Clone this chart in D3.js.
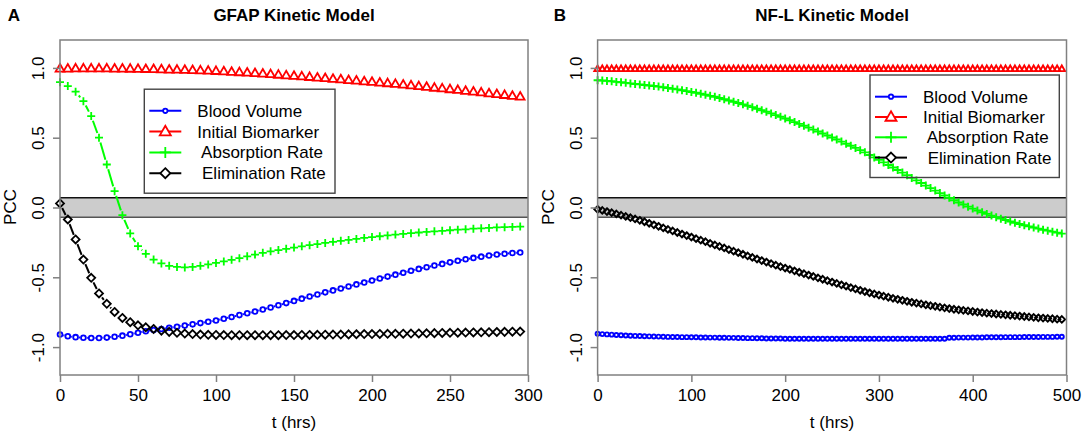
<!DOCTYPE html>
<html>
<head>
<meta charset="utf-8">
<script src="https://cdn.jsdelivr.net/npm/d3@7"></script>
<style>
  body { margin: 0; background: #fff; }
  text { font-family: "Liberation Sans", Arial, sans-serif; }
</style>
</head>
<body>
<svg id="chart" width="1084" height="436"></svg>
<script>
// time points (hrs)
const tA = [0,5,10,15,20,25,30,35,40,45,50,55,60,65,70,75,80,85,90,95,
  100,105,110,115,120,125,130,135,140,145,150,155,160,165,170,175,180,185,190,195,
  200,205,210,215,220,225,230,235,240,245,250,255,260,265,270,275,280,285,290,295];
const tB = [0,5,10,15,20,25,30,35,40,45,50,55,60,65,70,75,80,85,90,95,
  100,105,110,115,120,125,130,135,140,145,150,155,160,165,170,175,180,185,190,195,
  200,205,210,215,220,225,230,235,240,245,250,255,260,265,270,275,280,285,290,295,
  300,305,310,315,320,325,330,335,340,345,350,355,360,365,370,375,380,385,390,395,
  400,405,410,415,420,425,430,435,440,445,450,455,460,465,470,475,480,485,490,495];

// GFAP panel
const bloodA = [-0.910,-0.922,-0.929,-0.933,-0.935,-0.935,-0.932,-0.926,-0.918,-0.908,
  -0.897,-0.887,-0.878,-0.870,-0.862,-0.854,-0.846,-0.837,-0.828,-0.819,
  -0.810,-0.797,-0.784,-0.771,-0.758,-0.745,-0.731,-0.716,-0.700,-0.685,
  -0.669,-0.653,-0.638,-0.623,-0.608,-0.594,-0.580,-0.566,-0.551,-0.537,
  -0.523,-0.509,-0.495,-0.481,-0.467,-0.453,-0.440,-0.428,-0.416,-0.404,
  -0.393,-0.382,-0.371,-0.361,-0.352,-0.344,-0.337,-0.331,-0.326,-0.322];
const initialA = [0.995,0.995,0.996,0.996,0.996,0.996,0.996,0.995,0.995,0.994,
  0.993,0.992,0.991,0.990,0.988,0.987,0.986,0.984,0.982,0.980,
  0.978,0.975,0.972,0.969,0.966,0.963,0.959,0.955,0.951,0.947,
  0.943,0.939,0.935,0.931,0.927,0.922,0.918,0.913,0.909,0.904,
  0.900,0.895,0.890,0.885,0.880,0.875,0.869,0.864,0.858,0.853,
  0.847,0.842,0.836,0.830,0.824,0.818,0.812,0.806,0.800,0.794];
const absorbA = [0.898,0.870,0.830,0.762,0.655,0.500,0.308,0.117,-0.055,-0.186,
  -0.277,-0.332,-0.373,-0.401,-0.418,-0.426,-0.429,-0.426,-0.418,-0.408,
  -0.397,-0.386,-0.375,-0.363,-0.350,-0.337,-0.325,-0.314,-0.305,-0.296,
  -0.287,-0.278,-0.270,-0.262,-0.254,-0.246,-0.239,-0.232,-0.225,-0.218,
  -0.212,-0.206,-0.200,-0.194,-0.189,-0.184,-0.179,-0.175,-0.171,-0.167,
  -0.163,-0.159,-0.156,-0.152,-0.149,-0.146,-0.143,-0.141,-0.139,-0.137];
const elimA = [0.029,-0.086,-0.229,-0.373,-0.504,-0.616,-0.690,-0.748,-0.791,-0.822,
  -0.844,-0.858,-0.870,-0.882,-0.891,-0.898,-0.903,-0.907,-0.910,-0.912,
  -0.913,-0.914,-0.915,-0.915,-0.915,-0.915,-0.915,-0.915,-0.915,-0.914,
  -0.914,-0.913,-0.913,-0.912,-0.911,-0.910,-0.910,-0.909,-0.908,-0.907,
  -0.907,-0.906,-0.905,-0.905,-0.904,-0.903,-0.902,-0.901,-0.900,-0.899,
  -0.898,-0.897,-0.896,-0.895,-0.894,-0.893,-0.892,-0.891,-0.890,-0.889];

// NF-L panel
const bloodB = [-0.905,-0.907,-0.909,-0.911,-0.913,-0.915,-0.917,-0.919,-0.920,-0.921,
  -0.922,-0.923,-0.924,-0.925,-0.926,-0.927,-0.928,-0.928,-0.929,-0.929,
  -0.930,-0.930,-0.931,-0.931,-0.932,-0.932,-0.933,-0.933,-0.934,-0.934,
  -0.935,-0.935,-0.936,-0.936,-0.937,-0.937,-0.938,-0.938,-0.939,-0.939,
  -0.940,-0.940,-0.940,-0.940,-0.940,-0.940,-0.940,-0.940,-0.940,-0.940,
  -0.940,-0.940,-0.940,-0.940,-0.940,-0.940,-0.940,-0.940,-0.940,-0.940,
  -0.940,-0.940,-0.940,-0.940,-0.940,-0.940,-0.940,-0.940,-0.940,-0.940,
  -0.940,-0.940,-0.940,-0.940,-0.940,-0.933,-0.933,-0.932,-0.932,-0.932,
  -0.931,-0.931,-0.931,-0.930,-0.930,-0.930,-0.930,-0.929,-0.929,-0.929,
  -0.929,-0.928,-0.928,-0.928,-0.928,-0.927,-0.927,-0.927,-0.926,-0.926];
const initialB = [0.993,0.993,0.993,0.993,0.993,0.993,0.993,0.993,0.993,0.993,
  0.993,0.993,0.993,0.993,0.993,0.993,0.993,0.993,0.993,0.993,
  0.993,0.993,0.993,0.993,0.993,0.993,0.993,0.993,0.993,0.993,
  0.993,0.993,0.993,0.993,0.993,0.993,0.993,0.993,0.993,0.993,
  0.993,0.993,0.993,0.993,0.993,0.993,0.993,0.993,0.993,0.993,
  0.993,0.993,0.993,0.993,0.993,0.993,0.993,0.993,0.993,0.993,
  0.993,0.993,0.993,0.993,0.993,0.993,0.993,0.993,0.993,0.993,
  0.993,0.993,0.993,0.993,0.993,0.993,0.993,0.993,0.993,0.993,
  0.993,0.993,0.993,0.993,0.993,0.993,0.993,0.993,0.993,0.993,
  0.993,0.993,0.993,0.993,0.993,0.993,0.993,0.993,0.993,0.993];
const absorbB = [0.912,0.910,0.907,0.904,0.900,0.897,0.893,0.889,0.885,0.882,
  0.878,0.874,0.870,0.866,0.861,0.856,0.851,0.846,0.840,0.834,
  0.828,0.822,0.815,0.808,0.800,0.793,0.785,0.776,0.767,0.758,
  0.749,0.739,0.729,0.719,0.708,0.697,0.686,0.674,0.662,0.650,
  0.638,0.625,0.612,0.599,0.586,0.572,0.558,0.544,0.530,0.516,
  0.502,0.487,0.472,0.457,0.442,0.427,0.411,0.395,0.376,0.359,
  0.341,0.323,0.305,0.287,0.269,0.250,0.231,0.212,0.194,0.175,
  0.157,0.139,0.121,0.103,0.086,0.069,0.052,0.036,0.021,0.006,
  -0.008,-0.021,-0.034,-0.046,-0.058,-0.069,-0.080,-0.090,-0.100,-0.109,
  -0.118,-0.127,-0.135,-0.143,-0.151,-0.159,-0.166,-0.173,-0.180,-0.187];
const elimB = [-0.013,-0.021,-0.029,-0.037,-0.046,-0.055,-0.064,-0.073,-0.082,-0.092,
  -0.102,-0.113,-0.124,-0.135,-0.146,-0.157,-0.168,-0.179,-0.190,-0.201,
  -0.212,-0.223,-0.234,-0.245,-0.257,-0.268,-0.279,-0.290,-0.302,-0.313,
  -0.324,-0.335,-0.347,-0.358,-0.369,-0.380,-0.391,-0.402,-0.413,-0.424,
  -0.434,-0.444,-0.454,-0.464,-0.474,-0.484,-0.494,-0.504,-0.514,-0.524,
  -0.534,-0.544,-0.554,-0.564,-0.574,-0.583,-0.593,-0.602,-0.611,-0.619,
  -0.627,-0.635,-0.643,-0.651,-0.658,-0.665,-0.672,-0.679,-0.685,-0.691,
  -0.697,-0.703,-0.708,-0.714,-0.719,-0.724,-0.729,-0.733,-0.737,-0.741,
  -0.745,-0.749,-0.753,-0.757,-0.760,-0.763,-0.766,-0.769,-0.772,-0.775,
  -0.778,-0.781,-0.784,-0.787,-0.790,-0.792,-0.795,-0.797,-0.800,-0.802];

const seriesNames = ["Blood Volume", "Initial Biomarker", " Absorption Rate", " Elimination Rate"];
const seriesColors = ["#0000ff", "#ff0000", "#00ff00", "#000000"];
const seriesShapes = ["circle", "triangle", "cross", "diamond"];

const yTicks = [-1, -0.5, 0, 0.5, 1];
const yTickLabels = ["-1.0", "-0.5", "0.0", "0.5", "1.0"];
const xTicksA = [0, 50, 100, 150, 200, 250, 300];
const xTicksB = [0, 100, 200, 300, 400, 500];
const band = [-0.07, 0.07];

const svg = d3.select("#chart");
const FONT = 17;
const plotTop = 40, plotBottom = 375;

function markerPath(shape, s) {
  if (shape === "circle") return `M${s},0A${s},${s} 0 1,1 ${-s},0A${s},${s} 0 1,1 ${s},0Z`;
  if (shape === "triangle") return `M0,${-s}L${0.95 * s},${0.65 * s}L${-0.95 * s},${0.65 * s}Z`;
  if (shape === "cross") return `M${-s},0H${s}M0,${-s}V${s}`;
  return `M0,${-s}L${s},0L0,${s}L${-s},0Z`;
}

function drawPanel(p) {
  const x = d3.scaleLinear().domain(p.xDomain).range([p.left, p.right]);
  const y = d3.scaleLinear().domain([-1.2, 1.2]).range([plotBottom, plotTop]);
  const g = svg.append("g");

  // grey band round zero
  g.append("rect")
    .attr("x", p.left).attr("width", p.right - p.left)
    .attr("y", y(band[1])).attr("height", y(band[0]) - y(band[1]))
    .attr("fill", "#cccccc");
  g.append("line").attr("x1", p.left).attr("x2", p.right)
    .attr("y1", y(band[1])).attr("y2", y(band[1]))
    .attr("stroke", "#111").attr("stroke-width", 1.5);
  g.append("line").attr("x1", p.left).attr("x2", p.right)
    .attr("y1", y(band[0])).attr("y2", y(band[0]))
    .attr("stroke", "#555").attr("stroke-width", 1.5);

  // series, drawn like type="b": points plus line pieces between them
  p.series.forEach((vals, i) => {
    const pts = p.t.map((t, j) => [x(t), y(vals[j])]);
    const gap = p.sizes[i] + 1;
    const segs = d3.pairs(pts).map(([a, b]) => {
      const dx = b[0] - a[0], dy = b[1] - a[1], d = Math.hypot(dx, dy);
      if (d <= 2 * gap) return null;
      const ux = dx / d, uy = dy / d;
      return [a[0] + ux * gap, a[1] + uy * gap, b[0] - ux * gap, b[1] - uy * gap];
    }).filter(Boolean);

    g.selectAll(null).data(segs).join("line")
      .attr("x1", d => d[0]).attr("y1", d => d[1])
      .attr("x2", d => d[2]).attr("y2", d => d[3])
      .attr("stroke", seriesColors[i]).attr("stroke-width", 2);

    g.selectAll(null).data(pts).join("path")
      .attr("d", markerPath(seriesShapes[i], p.sizes[i]))
      .attr("transform", d => `translate(${d[0]},${d[1]})`)
      .attr("fill", "none")
      .attr("stroke", seriesColors[i])
      .attr("stroke-width", p.markerStroke);
  });

  // axes
  const ax = g.append("g")
    .attr("transform", `translate(0,${plotBottom})`)
    .call(d3.axisBottom(x).tickValues(p.xTicks).tickSize(7).tickSizeOuter(0).tickFormat(d3.format("d")));
  const ay = g.append("g")
    .attr("transform", `translate(${p.left},0)`)
    .call(d3.axisLeft(y).tickValues(yTicks).tickSize(7).tickSizeOuter(0).tickFormat((d, i) => yTickLabels[i]));
  [ax, ay].forEach(a => {
    a.attr("font-family", null).attr("font-size", FONT);
    a.select(".domain").remove();
    a.selectAll(".tick line").attr("stroke", "#808080").attr("stroke-width", 1.5);
    a.selectAll(".tick text").attr("fill", "#000");
  });
  ax.selectAll(".tick text").attr("y", 20).attr("dy", "0.35em");
  ay.selectAll(".tick text")
    .attr("x", 0).attr("y", 0).attr("dy", "0.35em")
    .attr("text-anchor", "middle")
    .attr("transform", "translate(-22,0) rotate(-90)");

  // plot frame
  g.append("rect")
    .attr("x", p.left).attr("y", plotTop)
    .attr("width", p.right - p.left).attr("height", plotBottom - plotTop)
    .attr("fill", "none").attr("stroke", "#808080").attr("stroke-width", 1.5);

  // titles and labels
  const cx = (p.left + p.right) / 2;
  g.append("text").attr("x", cx).attr("y", 15).attr("dy", "0.35em")
    .attr("text-anchor", "middle").attr("font-weight", "bold").attr("font-size", FONT)
    .text(p.title);
  g.append("text").attr("x", p.letterX).attr("y", 15).attr("dy", "0.35em")
    .attr("text-anchor", "middle").attr("font-weight", "bold").attr("font-size", FONT)
    .text(p.letter);
  g.append("text").attr("x", cx).attr("y", 422).attr("dy", "0.35em")
    .attr("text-anchor", "middle").attr("font-size", FONT)
    .text("t (hrs)");
  g.append("text")
    .attr("transform", `translate(${p.left - 50},207) rotate(-90)`)
    .attr("dy", "0.35em").attr("text-anchor", "middle").attr("font-size", FONT)
    .text("PCC");

  // legend
  const L = p.legend;
  const lg = g.append("g");
  seriesNames.forEach((name, i) => {
    const ry = L.y + L.rowStart + i * L.rowGap;
    lg.append("line").attr("x1", L.x + 5).attr("x2", L.x + 37)
      .attr("y1", ry).attr("y2", ry)
      .attr("stroke", seriesColors[i]).attr("stroke-width", 2);
    lg.append("path")
      .attr("d", markerPath(seriesShapes[i], L.sizes[i]))
      .attr("transform", `translate(${L.x + 21},${ry})`)
      .attr("fill", "#fff").attr("stroke", seriesColors[i]).attr("stroke-width", 1.8);
    lg.append("text").attr("x", L.x + 53).attr("y", ry).attr("dy", "0.35em")
      .attr("font-size", FONT).style("white-space", "pre")
      .text(name);
  });
  lg.append("rect").attr("x", L.x).attr("y", L.y)
    .attr("width", L.w).attr("height", L.h)
    .attr("fill", "none").attr("stroke", "#444").attr("stroke-width", 1.4);
}

drawPanel({
  left: 60, right: 528, xDomain: [0, 300], xTicks: xTicksA, t: tA,
  series: [bloodA, initialA, absorbA, elimA],
  sizes: [2.4, 4.6, 4, 4], markerStroke: 1.8,
  title: "GFAP Kinetic Model", letter: "A", letterX: 14,
  legend: { x: 144.3, y: 89.2, w: 190.7, h: 104, rowStart: 21.6, rowGap: 20.8, sizes: [2.2, 5.8, 5.5, 5] }
});

drawPanel({
  left: 597.6, right: 1066.5, xDomain: [0, 500], xTicks: xTicksB, t: tB,
  series: [bloodB, initialB, absorbB, elimB],
  sizes: [2, 3.4, 4, 3.3], markerStroke: 1.9,
  title: "NF-L Kinetic Model", letter: "B", letterX: 560,
  legend: { x: 870, y: 75, w: 189.3, h: 102.5, rowStart: 21.7, rowGap: 20.3, sizes: [2.2, 5.8, 5.5, 5] }
});
</script>
</body>
</html>
